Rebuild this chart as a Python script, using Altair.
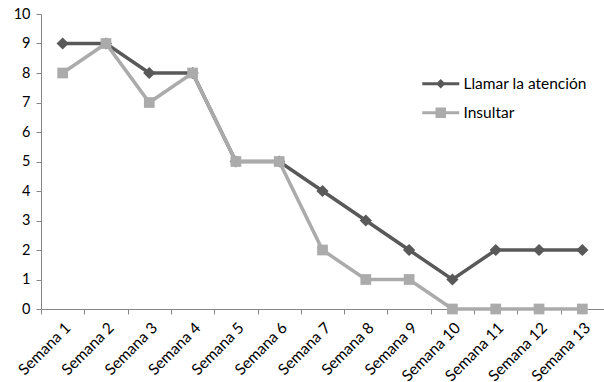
import altair as alt
import pandas as pd

# Weekly counts for two classroom behaviours
semanas = ["Semana 1", "Semana 2", "Semana 3", "Semana 4", "Semana 5", "Semana 6",
           "Semana 7", "Semana 8", "Semana 9", "Semana 10", "Semana 11", "Semana 12",
           "Semana 13"]
llamar = [9, 9, 8, 8, 5, 5, 4, 3, 2, 1, 2, 2, 2]
insultar = [8, 9, 7, 8, 5, 5, 2, 1, 1, 0, 0, 0, 0]
series = ["Llamar la atención", "Insultar"]
colores = ["#595959", "#ababab"]

rows = []
for nombre, valores in zip(series, [llamar, insultar]):
    for s, v in zip(semanas, valores):
        rows.append({"semana": s, "serie": nombre, "valor": v})
df = pd.DataFrame(rows)

FONT = "Lato"

x_enc = alt.X(
    "semana:N",
    sort=semanas,
    scale=alt.Scale(type="band", domain=semanas, paddingInner=0, paddingOuter=0),
    axis=alt.Axis(
        title=None, labelAngle=-45, labelAlign="right", labelBaseline="top",
        bandPosition=0, tickBand="extent", tickSize=5, labelPadding=6,
        domainColor="#868686", tickColor="#868686", labelColor="#000000",
        labelFont=FONT, labelFontSize=15.5,
    ),
)
y_enc = alt.Y(
    "valor:Q",
    scale=alt.Scale(domain=[0, 10], nice=False),
    axis=alt.Axis(
        title=None, values=list(range(11)), grid=False, tickSize=5, labelPadding=6,
        domainColor="#868686", tickColor="#868686", labelColor="#000000",
        labelFont=FONT, labelFontSize=14.5,
    ),
)

base = alt.Chart(df)
layers = []
for nombre, color, forma, tam in zip(series, colores, ["diamond", "square"], [150, 115]):
    sub = base.transform_filter(alt.datum.serie == nombre)
    layers.append(sub.mark_line(color=color, strokeWidth=3.5).encode(x=x_enc, y=y_enc))
    layers.append(
        sub.mark_point(shape=forma, filled=True, color=color, size=tam, opacity=1)
        .encode(x=x_enc, y=y_enc)
    )

# Legend symbols: a short line segment with the series marker on top
sym_llamar = "M-3.7,-0.3H3.7V0.3H-3.7Z M0,-0.95L0.95,0L0,0.95L-0.95,0Z"
sym_insultar = "M-3.7,-0.3H3.7V0.3H-3.7Z M-1.05,-1.05H1.05V1.05H-1.05Z"

leg_props = dict(
    title=None, orient="none", legendX=392, legendY=62,
    symbolSize=100, symbolStrokeWidth=0, symbolOpacity=1,
    labelOffset=15, labelFont=FONT, labelFontSize=15.5, labelColor="#000000",
    rowPadding=12,
)
leyenda = (
    base.transform_filter("false")
    .mark_point(filled=True, opacity=1)
    .encode(
        x=x_enc, y=y_enc,
        fill=alt.Fill("serie:N", scale=alt.Scale(domain=series, range=colores),
                      legend=alt.Legend(**leg_props)),
        shape=alt.Shape("serie:N", scale=alt.Scale(domain=series, range=[sym_llamar, sym_insultar]),
                        legend=alt.Legend(**leg_props)),
    )
)
layers.append(leyenda)

chart = (
    alt.layer(*layers)
    .properties(
        width=563, height=295,
        autosize=alt.AutoSizeParams(type="none"),
        padding={"left": 41, "top": 14, "right": 0, "bottom": 73},
        background="#ffffff",
    )
    .configure_view(stroke=None)
)

chart.save("out.html", embed_options={"renderer": "svg", "actions": False})
